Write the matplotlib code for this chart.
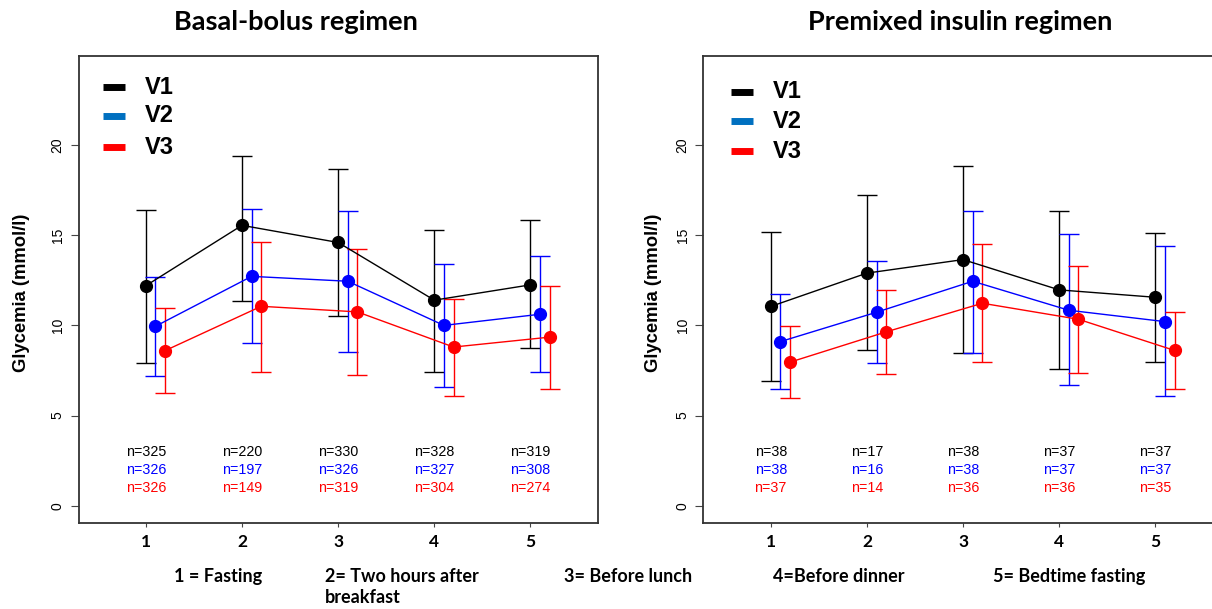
import matplotlib
matplotlib.use('Agg')
import matplotlib.pyplot as plt
import numpy as np

timepoints = [1, 2, 3, 4, 5]
visits = ['V1', 'V2', 'V3']
colors = ['black', '#0000ff', '#ff0000']
legend_colors = ['black', '#0070c0', '#ff0000']

# basal-bolus: mean, upper and lower end of the bars
bb_mean = [[12.2, 15.55, 14.6, 11.4, 12.25],
           [9.95, 12.72, 12.45, 10.0, 10.62],
           [8.6, 11.06, 10.75, 8.8, 9.35]]
bb_upper = [[16.42, 19.4, 18.7, 15.3, 15.83],
            [12.71, 16.45, 16.36, 13.43, 13.87],
            [10.97, 14.64, 14.22, 11.45, 12.2]]
bb_lower = [[7.94, 11.38, 10.53, 7.44, 8.72],
            [7.17, 9.01, 8.55, 6.56, 7.39],
            [6.24, 7.44, 7.24, 6.09, 6.46]]
bb_n = [[325, 220, 330, 328, 319],
        [326, 197, 326, 327, 308],
        [326, 149, 319, 304, 274]]

# premixed
pm_mean = [[11.05, 12.9, 13.65, 11.97, 11.56],
           [9.1, 10.73, 12.45, 10.84, 10.21],
           [7.96, 9.64, 11.23, 10.34, 8.61]]
pm_upper = [[15.18, 17.21, 18.85, 16.32, 15.12],
            [11.73, 13.59, 16.36, 15.05, 14.42],
            [9.94, 11.97, 14.5, 13.3, 10.73]]
pm_lower = [[6.93, 8.61, 8.48, 7.57, 7.96],
            [6.45, 7.89, 8.48, 6.69, 6.06],
            [5.95, 7.31, 7.96, 7.37, 6.46]]
pm_n = [[38, 17, 38, 37, 37],
        [38, 16, 38, 37, 37],
        [37, 14, 36, 36, 35]]

titles = ['Basal-bolus regimen', 'Premixed insulin regimen']
footnotes = ['1 = Fasting', '2= Two hours after\nbreakfast', '3= Before lunch',
             '4=Before dinner', '5= Bedtime fasting']

W, H = 1212, 609
fig = plt.figure(figsize=(W / 100, H / 100), dpi=100)


def panel(left_px, means, uppers, lowers, ns, title, title_x, leg_x, leg_y, ylab_x):
    ax = fig.add_axes([left_px / W, 1 - 523 / H, 519.3 / W, 467.3 / H])
    x = np.array(timepoints, dtype=float)
    for i in range(3):
        xi = x + 0.1 * i
        m = np.array(means[i])
        up = np.array(uppers[i]) - m
        lo = m - np.array(lowers[i])
        ax.errorbar(xi, m, yerr=[lo, up], color=colors[i], lw=1, elinewidth=1,
                    capsize=7, capthick=1, marker='o', ms=8.5, zorder=3)
        for j in range(5):
            ax.text(x[j], 3 - i, 'n=%d' % ns[i][j], color=colors[i], fontsize=10.3,
                    family='Liberation Sans', ha='center', va='center')
    ax.set_xlim(0.3, 5.7)
    ax.set_ylim(-0.96, 24.96)
    ax.set_yticks([0, 5, 10, 15, 20])
    ax.set_xticks(timepoints)
    ax.set_xticklabels([str(t) for t in timepoints], fontsize=12.5, fontweight='bold',
                       family='Lato')
    ax.tick_params(axis='x', length=3, pad=5, color='#444444')
    ax.tick_params(axis='y', length=6, pad=4, color='#444444', labelsize=10)
    for lab in ax.get_yticklabels():
        lab.set_rotation(90)
        lab.set_va('center')
        lab.set_family('Liberation Sans')
    for s in ax.spines.values():
        s.set_linewidth(1.3)
        s.set_color('#333333')
    fig.text(ylab_x / W, 1 - 293 / H, 'Glycemia (mmol/l)', rotation=90, fontsize=13.3,
             fontweight='bold', family='Liberation Sans', ha='center', va='center')
    fig.text(title_x / W, 1 - 22 / H, title, fontsize=19.5, fontweight='bold',
             family='Lato', ha='center', va='center')
    for i in range(3):
        yy = 1 - leg_y[i] / H
        fig.add_artist(plt.Line2D([leg_x / W, (leg_x + 22) / W], [yy, yy],
                                  color=legend_colors[i], lw=5, solid_capstyle='butt'))
        fig.text((leg_x + 42) / W, yy, visits[i], fontsize=17, fontweight='bold',
                 family='Liberation Sans', ha='left', va='center')
    return ax


panel(78.5, bb_mean, bb_upper, bb_lower, bb_n, titles[0], 296, 103, [87, 116, 147], 22)
panel(703.4, pm_mean, pm_upper, pm_lower, pm_n, titles[1], 960, 731, [92, 121, 151], 653)

foot_x = [174, 325, 564, 773, 993]
for fx, txt in zip(foot_x, footnotes):
    fig.text(fx / W, 1 - 568 / H, txt, fontsize=13, fontweight='bold', family='Lato',
             ha='left', va='top', linespacing=1.3)

fig.savefig('out.png', dpi=100)
